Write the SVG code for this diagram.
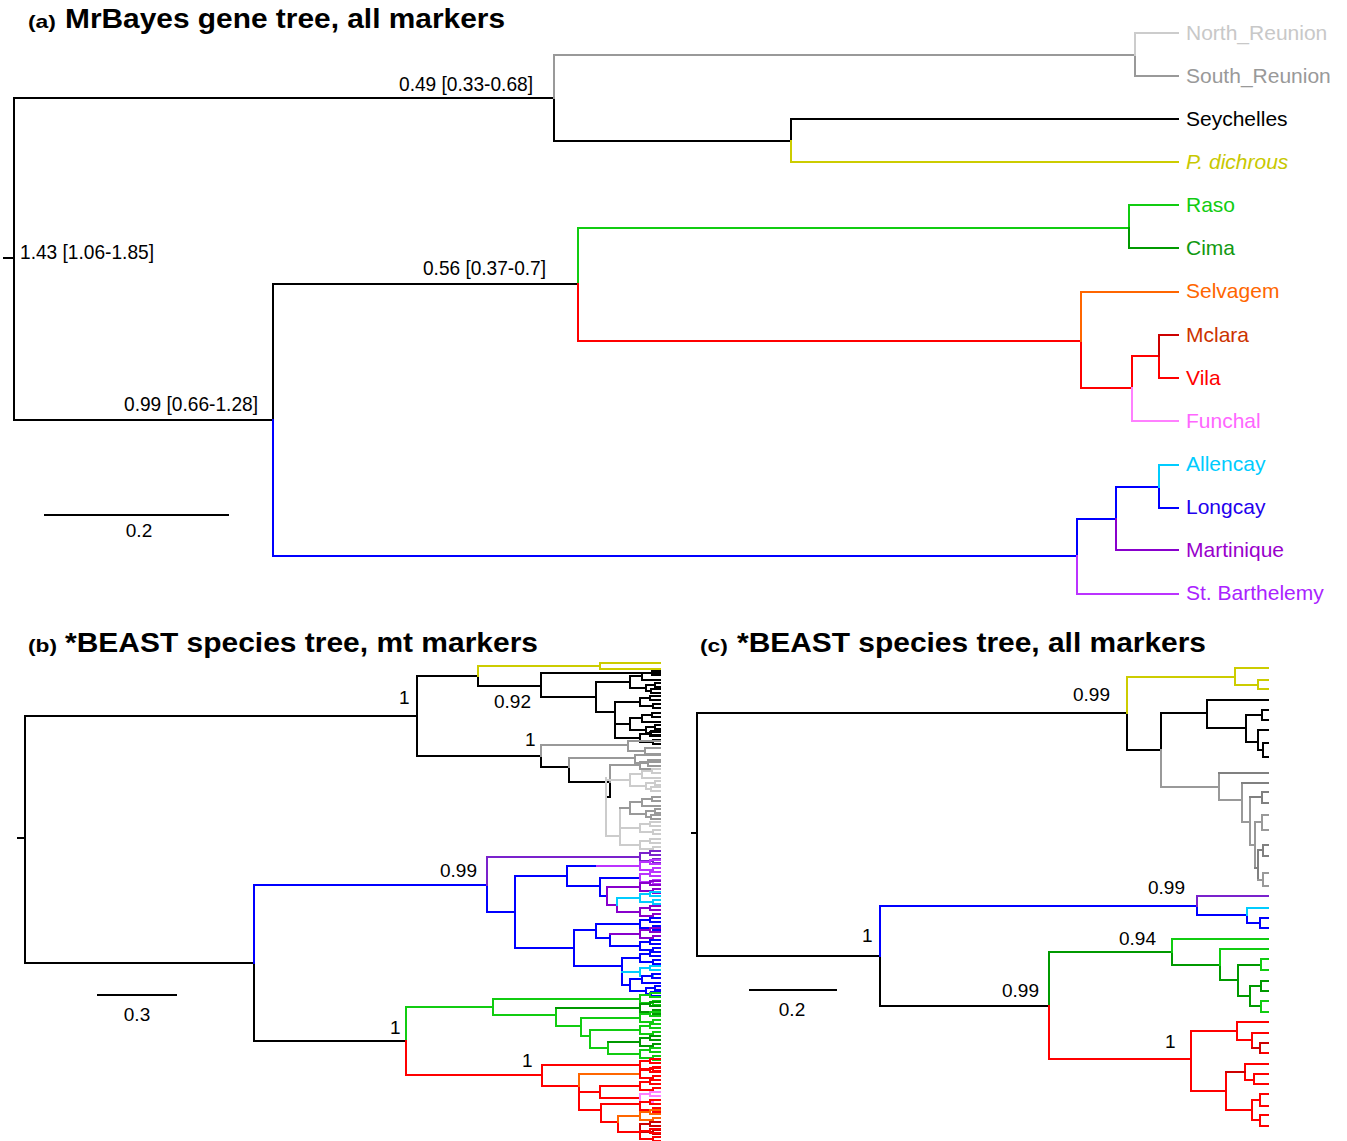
<svg xmlns="http://www.w3.org/2000/svg" xmlns:xlink="http://www.w3.org/1999/xlink" width="1347" height="1141" viewBox="0 0 1347 1141">
<style>
path,use{fill:none;stroke-width:2;stroke-linecap:square}
.k{stroke:#000}.g1{stroke:#cccccc}.g2{stroke:#999999}.g3{stroke:#808080}.y{stroke:#cccc00}
.gr{stroke:#11cc11}.gd{stroke:#009900}.o{stroke:#ff6600}.r{stroke:#ff0000}.rd{stroke:#cc0000}
.p{stroke:#ff80ff}.c{stroke:#00ccff}.b{stroke:#0000ff}.pu{stroke:#8800cc}.vi{stroke:#bb33ff}.pp{stroke:#7a22cc}
text{font-family:"Liberation Sans",Arial,sans-serif;fill:#000}
.tip{font-size:21px}
.val{font-size:19px}
.br{font-size:21px}
.tt{font-size:27px;font-weight:bold}
.tl{font-size:19px;font-weight:bold}
</style>
<defs>
<g id="c1"><path d="M-20,-4V4M-20,-4H-10M-10,-6V-2M-10,-6H0M-10,-2H0M-20,4H-7M-7,2V6M-7,2H0M-7,6H0"/></g>
<g id="c2"><path d="M-30,-6V6M-30,-6H-18M-18,-9V-2M-18,-9H-8M-8,-11V-7M-8,-11H0M-8,-7H0M-18,-2H0M-30,6H-14M-14,3V9M-14,3H-5M-5,1V5M-5,1H0M-5,5H0M-14,9H-9M-9,7V11M-9,7H0M-9,11H0"/></g>
</defs>
<rect width="1347" height="1141" fill="#fff"/>

<!-- ================= Panel (a) ================= -->
<g id="panel-a">
<g id="title-a"><text x="28" y="28" class="tl" textLength="28" lengthAdjust="spacingAndGlyphs">(a)</text><text x="65" y="28" class="tt" textLength="440" lengthAdjust="spacingAndGlyphs">MrBayes gene tree, all markers</text></g>
<g id="connectors-a">
<path class="k" d="M4,258H14M14,98V420M14,98H554M554,98V141H791M791,119V141M791,119H1178M14,420H273M273,284V420M273,284H578"/>
<path class="g2" d="M554,55V98M554,55H1135M1135,55V76H1178"/>
<path class="g1" d="M1135,33V55M1135,33H1178"/>
<path class="y" d="M791,141V162H1178"/>
<path class="gr" d="M578,228V284M578,228H1129M1129,205V228M1129,205H1178"/>
<path class="gd" d="M1129,228V248H1178"/>
<path class="r" d="M578,284V341H1081M1081,341V388H1132M1132,356V388M1132,356H1159M1159,356V378H1178"/>
<path class="o" d="M1081,292V341M1081,292H1178"/>
<path class="rd" d="M1159,335V356M1159,335H1178"/>
<path class="p" d="M1132,388V421H1178"/>
<path class="b" d="M273,420V556H1077M1077,519V556M1077,519H1116M1116,487V519M1116,487H1159M1159,487V508H1178"/>
<path class="c" d="M1159,465V487M1159,465H1178"/>
<path class="pu" d="M1116,519V550H1178"/>
<path class="vi" d="M1077,556V594H1178"/>
<path class="k" d="M45,515H228"/>
</g>
<g id="tip-north-reunion"><text x="1186" y="40" class="tip" fill="#c8c8c8" style="fill:#c8c8c8">North_Reunion</text></g>
<g id="tip-south-reunion"><text x="1186" y="83" class="tip" style="fill:#999999">South_Reunion</text></g>
<g id="tip-seychelles"><text x="1186" y="126" class="tip">Seychelles</text></g>
<g id="tip-pdichrous"><text x="1186" y="169" class="tip" style="fill:#c8c800;font-style:italic">P. dichrous</text></g>
<g id="tip-raso"><text x="1186" y="212" class="tip" style="fill:#11cc11">Raso</text></g>
<g id="tip-cima"><text x="1186" y="255" class="tip" style="fill:#119911">Cima</text></g>
<g id="tip-selvagem"><text x="1186" y="298" class="tip" style="fill:#ff6600">Selvagem</text></g>
<g id="tip-mclara"><text x="1186" y="342" class="tip" style="fill:#cc3300">Mclara</text></g>
<g id="tip-vila"><text x="1186" y="385" class="tip" style="fill:#ff0000">Vila</text></g>
<g id="tip-funchal"><text x="1186" y="428" class="tip" style="fill:#ff66ff">Funchal</text></g>
<g id="tip-allencay"><text x="1186" y="471" class="tip" style="fill:#00ccff">Allencay</text></g>
<g id="tip-longcay"><text x="1186" y="514" class="tip" style="fill:#2200ee">Longcay</text></g>
<g id="tip-martinique"><text x="1186" y="557" class="tip" style="fill:#9900cc">Martinique</text></g>
<g id="tip-stbarthelemy"><text x="1186" y="600" class="tip" style="fill:#aa22ff">St. Barthelemy</text></g>
<g id="node-a1"><text x="399" y="91" class="br" textLength="134" lengthAdjust="spacingAndGlyphs">0.49 [0.33-0.68]</text></g>
<g id="node-a2"><text x="20" y="259" class="br" textLength="134" lengthAdjust="spacingAndGlyphs">1.43 [1.06-1.85]</text></g>
<g id="node-a3"><text x="423" y="275" class="br" textLength="123" lengthAdjust="spacingAndGlyphs">0.56 [0.37-0.7]</text></g>
<g id="node-a4"><text x="124" y="411" class="br" textLength="134" lengthAdjust="spacingAndGlyphs">0.99 [0.66-1.28]</text></g>
<g id="scale-a"><text x="139" y="537" class="val" text-anchor="middle">0.2</text></g>
</g>

<!-- ================= Panel (b) ================= -->
<g id="panel-b">
<g id="title-b"><text x="28" y="652" class="tl" textLength="29" lengthAdjust="spacingAndGlyphs">(b)</text><text x="65" y="652" class="tt" textLength="473" lengthAdjust="spacingAndGlyphs">*BEAST species tree, mt markers</text></g>
<g id="connectors-b">
<path class="k" d="M18,838H25M25,716V963M25,716H417M417,676V756M417,676H478M478,676V686H541M541,673V697M541,673H660M541,697H596M596,682V712M596,682H630M596,712H615M615,702V724M615,702H640M615,724H630M417,756H541M541,756V767H569M569,767V782H610M610,782V797H606"/>
<use href="#c2" xlink:href="#c2" x="660" y="682" class="k"/>
<use href="#c1" xlink:href="#c1" x="660" y="702" class="k"/>
<use href="#c2" xlink:href="#c2" x="660" y="724" class="k"/>
<use href="#c1" xlink:href="#c1" x="660" y="738" class="k"/>
<path class="k" d="M615,724V738H640"/>
<path class="y" d="M478,666V676M478,666H600M600,663V669M600,663H660M600,669H660"/>
<path class="g2" d="M541,745V756M541,745H628M628,741V751M628,741H660M628,751H645M645,748V754M645,748H660M645,754H660M569,758V767M569,758H635M635,755V763M635,755H660M635,763H648M648,760V766M648,760H660M648,766H660M610,765V782M610,765H640M640,762V769M640,762H660M640,769H660"/>
<path class="g1" d="M606,778V836M606,780H630M606,836H620M620,808V845M620,828H640M620,845H640"/>
<path class="g2" d="M620,808H630"/>
<use href="#c2" xlink:href="#c2" x="660" y="780" class="g1"/>
<use href="#c2" xlink:href="#c2" x="660" y="808" class="g2"/>
<use href="#c1" xlink:href="#c1" x="660" y="828" class="g1"/>
<use href="#c1" xlink:href="#c1" x="660" y="845" class="g1"/>
<path class="k" d="M25,963H254M254,963V1041"/>
<path class="b" d="M254,885V963M254,885H487M487,885V912M487,912H515M515,876V948M515,876H567M567,866V886M567,866H597M567,886H600M600,878V896M600,878H640M600,896H607M515,948H574M574,930V966M574,930H596M596,924V938M596,924H640M596,938H610M610,934V946M610,946H640M574,966H622M622,958V985M622,958H640M622,985H630"/>
<path class="pp" d="M487,857V885M487,857H640"/>
<path class="vi" d="M597,866H640"/>
<path class="pu" d="M607,887V905M607,887H640M607,905H617M617,905V912M617,912H640M610,934H640"/>
<path class="c" d="M617,898V905M617,898H640M622,972H640"/>
<use href="#c1" xlink:href="#c1" x="660" y="857" class="pp"/>
<use href="#c1" xlink:href="#c1" x="660" y="866" class="vi"/>
<use href="#c1" xlink:href="#c1" x="660" y="878" class="vi"/>
<use href="#c1" xlink:href="#c1" x="660" y="887" class="pu"/>
<use href="#c1" xlink:href="#c1" x="660" y="898" class="c"/>
<use href="#c1" xlink:href="#c1" x="660" y="912" class="pu"/>
<use href="#c1" xlink:href="#c1" x="660" y="924" class="b"/>
<use href="#c1" xlink:href="#c1" x="660" y="934" class="pu"/>
<use href="#c1" xlink:href="#c1" x="660" y="946" class="b"/>
<use href="#c1" xlink:href="#c1" x="660" y="958" class="b"/>
<use href="#c1" xlink:href="#c1" x="660" y="972" class="c"/>
<use href="#c2" xlink:href="#c2" x="660" y="985" class="b"/>
<path class="k" d="M254,1041H406"/>
<path class="gr" d="M406,1007V1041M406,1007H493M493,999V1015M493,999H640M493,1015H556M556,1008V1026M556,1026H581M581,1018V1036M581,1018H640M581,1036H590M590,1030V1048M590,1030H640M590,1048H608M608,1042V1054M608,1054H640"/>
<path class="gd" d="M556,1008H640M608,1042H640"/>
<use href="#c1" xlink:href="#c1" x="660" y="999" class="gr"/>
<use href="#c1" xlink:href="#c1" x="660" y="1008" class="gd"/>
<use href="#c1" xlink:href="#c1" x="660" y="1018" class="gr"/>
<use href="#c1" xlink:href="#c1" x="660" y="1030" class="gr"/>
<use href="#c1" xlink:href="#c1" x="660" y="1042" class="gd"/>
<use href="#c1" xlink:href="#c1" x="660" y="1054" class="gr"/>
<path class="r" d="M406,1041V1075M406,1075H542M542,1065V1086M542,1065H640M542,1086H579M579,1086V1110M579,1092H600M600,1086V1098M600,1086H640M600,1098H640M579,1110H601M601,1104V1122M601,1104H640M601,1122H618M618,1122V1132M618,1132H640"/>
<path class="o" d="M579,1074V1086M579,1074H640M618,1116V1122M618,1116H640"/>
<use href="#c1" xlink:href="#c1" x="660" y="1065" class="r"/>
<use href="#c1" xlink:href="#c1" x="660" y="1074" class="r"/>
<use href="#c1" xlink:href="#c1" x="660" y="1086" class="r"/>
<use href="#c1" xlink:href="#c1" x="660" y="1098" class="p"/>
<use href="#c1" xlink:href="#c1" x="660" y="1106" class="r"/>
<use href="#c1" xlink:href="#c1" x="660" y="1116" class="o"/>
<use href="#c1" xlink:href="#c1" x="660" y="1128" class="rd"/>
<use href="#c1" xlink:href="#c1" x="660" y="1135" class="r"/>
<path class="k" d="M98,995H176"/>
</g>
<g id="node-b1"><text x="399" y="704" class="val">1</text></g>
<g id="node-b2"><text x="494" y="708" class="val">0.92</text></g>
<g id="node-b3"><text x="525" y="746" class="val">1</text></g>
<g id="node-b4"><text x="440" y="877" class="val">0.99</text></g>
<g id="node-b5"><text x="390" y="1034" class="val">1</text></g>
<g id="node-b6"><text x="522" y="1067" class="val">1</text></g>
<g id="scale-b"><text x="137" y="1021" class="val" text-anchor="middle">0.3</text></g>
</g>

<!-- ================= Panel (c) ================= -->
<g id="panel-c">
<g id="title-c"><text x="700" y="652" class="tl" textLength="28" lengthAdjust="spacingAndGlyphs">(c)</text><text x="737" y="652" class="tt" textLength="469" lengthAdjust="spacingAndGlyphs">*BEAST species tree, all markers</text></g>
<g id="connectors-c">
<path class="k" d="M692,833H697M697,713V956M697,713H1127M1127,713V750M1127,750H1161M1161,713V750M1161,713H1207M1207,700V728M1207,700H1268M1207,728H1246M1246,715V742M1246,715H1262M1262,710V720M1262,710H1268M1262,720H1268M1246,742H1258M1258,730V750M1258,730H1268M1258,750H1263M1263,743V757M1263,743H1268M1263,757H1268M697,956H880M880,956V1006M880,1006H1049"/>
<path class="y" d="M1127,677V713M1127,677H1235M1235,668V685M1235,668H1268M1235,685H1258M1258,680V689M1258,680H1268M1258,689H1268"/>
<path class="g2" d="M1161,750V787H1219M1219,773V800M1219,800H1242M1242,783V822M1242,822H1250M1250,797V845M1250,845H1255M1255,822V868"/>
<path class="g3" d="M1219,773H1268M1242,783H1268M1250,797H1262M1262,792V803M1262,792H1268M1262,803H1268M1255,868H1258M1258,850V880M1258,850H1263M1263,845V856M1263,845H1268M1263,856H1268"/>
<path class="g2" d="M1255,822H1262M1262,815V830M1262,815H1268M1262,830H1268M1258,880H1263M1263,873V886M1263,873H1268M1263,886H1268"/>
<path class="b" d="M880,906V956M880,906H1197M1197,906V915M1197,915H1247M1247,915V923M1247,923H1260M1260,918V928M1260,918H1268M1260,928H1268"/>
<path class="pp" d="M1197,896V906M1197,896H1268"/>
<path class="c" d="M1247,908V915M1247,908H1268"/>
<path class="gd" d="M1049,952V1006M1049,952H1172M1172,952V965M1172,965H1220M1220,965V980M1220,980H1238M1238,965V996M1238,965H1261M1238,996H1250M1250,986V1006M1250,986H1261M1250,1006H1261M1261,981V991M1261,981H1268M1261,991H1268"/>
<path class="gr" d="M1172,939V952M1172,939H1268M1220,949V965M1220,949H1268M1261,959V970M1261,959H1268M1261,970H1268M1261,1001V1012M1261,1001H1268M1261,1012H1268"/>
<path class="r" d="M1049,1006V1059M1049,1059H1191M1191,1031V1091M1191,1031H1237M1237,1022V1040M1237,1022H1268M1237,1040H1252M1252,1033V1048M1252,1033H1268M1260,1053H1268M1191,1091H1226M1226,1072V1110M1245,1064V1080M1245,1064H1268M1245,1080H1254M1254,1074V1084M1254,1074H1268M1254,1084H1268M1226,1110H1252M1252,1100V1120M1252,1100H1260M1260,1094V1106M1260,1094H1268M1260,1106H1268M1252,1120H1260M1260,1115V1126M1260,1115H1268M1260,1126H1268"/>
<path class="rd" d="M1252,1048H1260M1260,1043V1053M1260,1043H1268M1226,1072H1245"/>
<path class="k" d="M750,990H836"/>
</g>
<g id="node-c1"><text x="1073" y="701" class="val">0.99</text></g>
<g id="node-c2"><text x="1148" y="894" class="val">0.99</text></g>
<g id="node-c3"><text x="862" y="942" class="val">1</text></g>
<g id="node-c4"><text x="1119" y="945" class="val">0.94</text></g>
<g id="node-c5"><text x="1002" y="997" class="val">0.99</text></g>
<g id="node-c6"><text x="1165" y="1048" class="val">1</text></g>
<g id="scale-c"><text x="792" y="1016" class="val" text-anchor="middle">0.2</text></g>
</g>
</svg>
